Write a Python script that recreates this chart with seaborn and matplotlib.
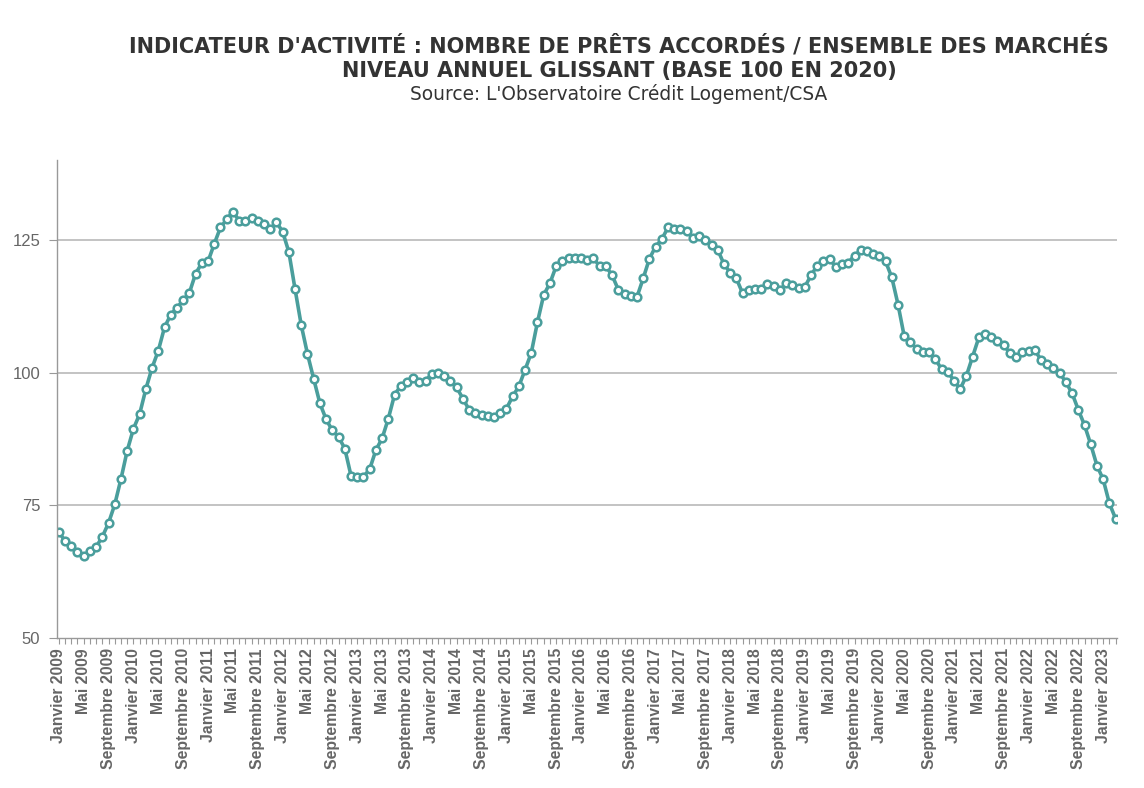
import numpy as np
import pandas as pd
import matplotlib
matplotlib.use("Agg")
import matplotlib.pyplot as plt
import seaborn as sns

# ==============================
# DATA (monthly, Janvier 2009 -> Mars 2023)
# ==============================

start_year = 2009
month_names = ["Janvier", "Février", "Mars", "Avril", "Mai", "Juin", "Juillet",
               "Août", "Septembre", "Octobre", "Novembre", "Décembre"]

values_2009_2011 = [
    70.0, 68.3, 67.3, 66.3, 65.5, 66.4, 67.2, 69.1, 71.7, 75.2, 80.0, 85.3,
    89.4, 92.2, 96.9, 100.9, 104.1, 108.5, 110.9, 112.2, 113.6, 115.0, 118.6, 120.6,
    120.9, 124.2, 127.3, 128.8, 130.3, 128.6, 128.6, 129.0, 128.5, 128.0, 127.0, 128.3,
]
values_2012_2014 = [
    126.5, 122.7, 115.7, 108.9, 103.5, 98.8, 94.2, 91.2, 89.1, 87.9, 85.7, 80.6,
    80.4, 80.4, 81.8, 85.4, 87.6, 91.3, 95.8, 97.5, 98.2, 98.9, 98.3, 98.5,
    99.7, 99.9, 99.4, 98.4, 97.2, 95.1, 93.0, 92.3, 92.0, 91.8, 91.6, 92.3,
]
values_2015_2017 = [
    93.2, 95.5, 97.4, 100.5, 103.7, 109.5, 114.6, 116.8, 120.0, 121.0, 121.6, 121.6,
    121.5, 121.2, 121.5, 120.0, 120.0, 118.3, 115.6, 114.8, 114.4, 114.2, 117.7, 121.4,
    123.7, 125.1, 127.3, 127.0, 127.0, 126.6, 125.3, 125.6, 124.9, 124.0, 123.1, 120.4,
]
values_2018_2020 = [
    118.8, 117.7, 114.9, 115.5, 115.8, 115.8, 116.6, 116.3, 115.5, 116.8, 116.5, 115.9,
    116.1, 118.3, 120.1, 121.0, 121.4, 119.8, 120.4, 120.7, 122.0, 123.0, 122.8, 122.3,
    121.9, 120.9, 117.9, 112.8, 106.8, 105.7, 104.5, 103.8, 103.8, 102.6, 100.6, 100.1,
]
values_2021_2023 = [
    98.5, 96.9, 99.4, 103.0, 106.6, 107.2, 106.6, 106.0, 105.2, 103.6, 103.0, 103.8,
    104.1, 104.2, 102.4, 101.6, 100.8, 99.9, 98.2, 96.1, 93.0, 90.1, 86.5, 82.5,
    79.9, 75.4, 72.5,
]

values = (values_2009_2011 + values_2012_2014 + values_2015_2017
          + values_2018_2020 + values_2021_2023)

title_line1 = "INDICATEUR D'ACTIVITÉ : NOMBRE DE PRÊTS ACCORDÉS / ENSEMBLE DES MARCHÉS"
title_line2 = "NIVEAU ANNUEL GLISSANT (BASE 100 EN 2020)"
source_text = "Source: L'Observatoire Crédit Logement/CSA"

y_ticks = [50, 75, 100, 125]

# ==============================
# BUILD TABLE
# ==============================

df = pd.DataFrame({"mois": np.arange(len(values)), "indice": values})

tick_pos = list(range(0, len(values), 4))
tick_labels = [f"{month_names[p % 12]} {start_year + p // 12}" for p in tick_pos]

# ==============================
# PLOT
# ==============================

sns.set_style("white")
plt.rcParams["font.family"] = ["DejaVu Sans"]

line_color = "#4a9e9c"
grey = "#666666"

fig = plt.figure(figsize=(11.44, 7.88), dpi=100)
ax = fig.add_axes([0.0498, 0.190, 0.927, 0.607])

for y in y_ticks[1:]:
    ax.axhline(y, color="#b3b3b3", lw=1.1, zorder=0)

sns.lineplot(data=df, x="mois", y="indice", ax=ax, color=line_color, lw=2.6,
             marker="o", markersize=5.5, markerfacecolor="white",
             markeredgecolor=line_color, markeredgewidth=1.8)

ax.set_xlim(-0.3, len(values) - 0.7)
ax.set_ylim(50, 140)
ax.set_xlabel("")
ax.set_ylabel("")

ax.set_yticks(y_ticks)
ax.set_yticklabels([str(v) for v in y_ticks], fontsize=12, color=grey,
                   family="Liberation Sans")
ax.set_xticks(tick_pos)
ax.set_xticklabels(tick_labels, rotation=90, fontsize=11.3, fontweight="bold",
                   color=grey, family="Liberation Sans")
ax.set_xticks(range(len(values)), minor=True)
ax.tick_params(axis="x", which="both", length=4, width=0.8, color="#999999",
               direction="out", bottom=True, pad=3)
ax.tick_params(axis="y", length=6, width=0.8, color="#999999", direction="out",
               left=True, pad=6)

for side in ["top", "right"]:
    ax.spines[side].set_visible(False)
ax.spines["left"].set_color("#999999")
ax.spines["bottom"].set_color("#999999")
ax.spines["left"].set_linewidth(1)
ax.spines["bottom"].set_linewidth(1)

fig.text(0.541, 0.942, title_line1, ha="center", va="center", fontsize=15,
         fontweight="bold", color="#333333")
fig.text(0.541, 0.910, title_line2, ha="center", va="center", fontsize=15,
         fontweight="bold", color="#333333")
fig.text(0.541, 0.881, source_text, ha="center", va="center", fontsize=13.4,
         color="#333333")

fig.savefig("out.png", dpi=100)
